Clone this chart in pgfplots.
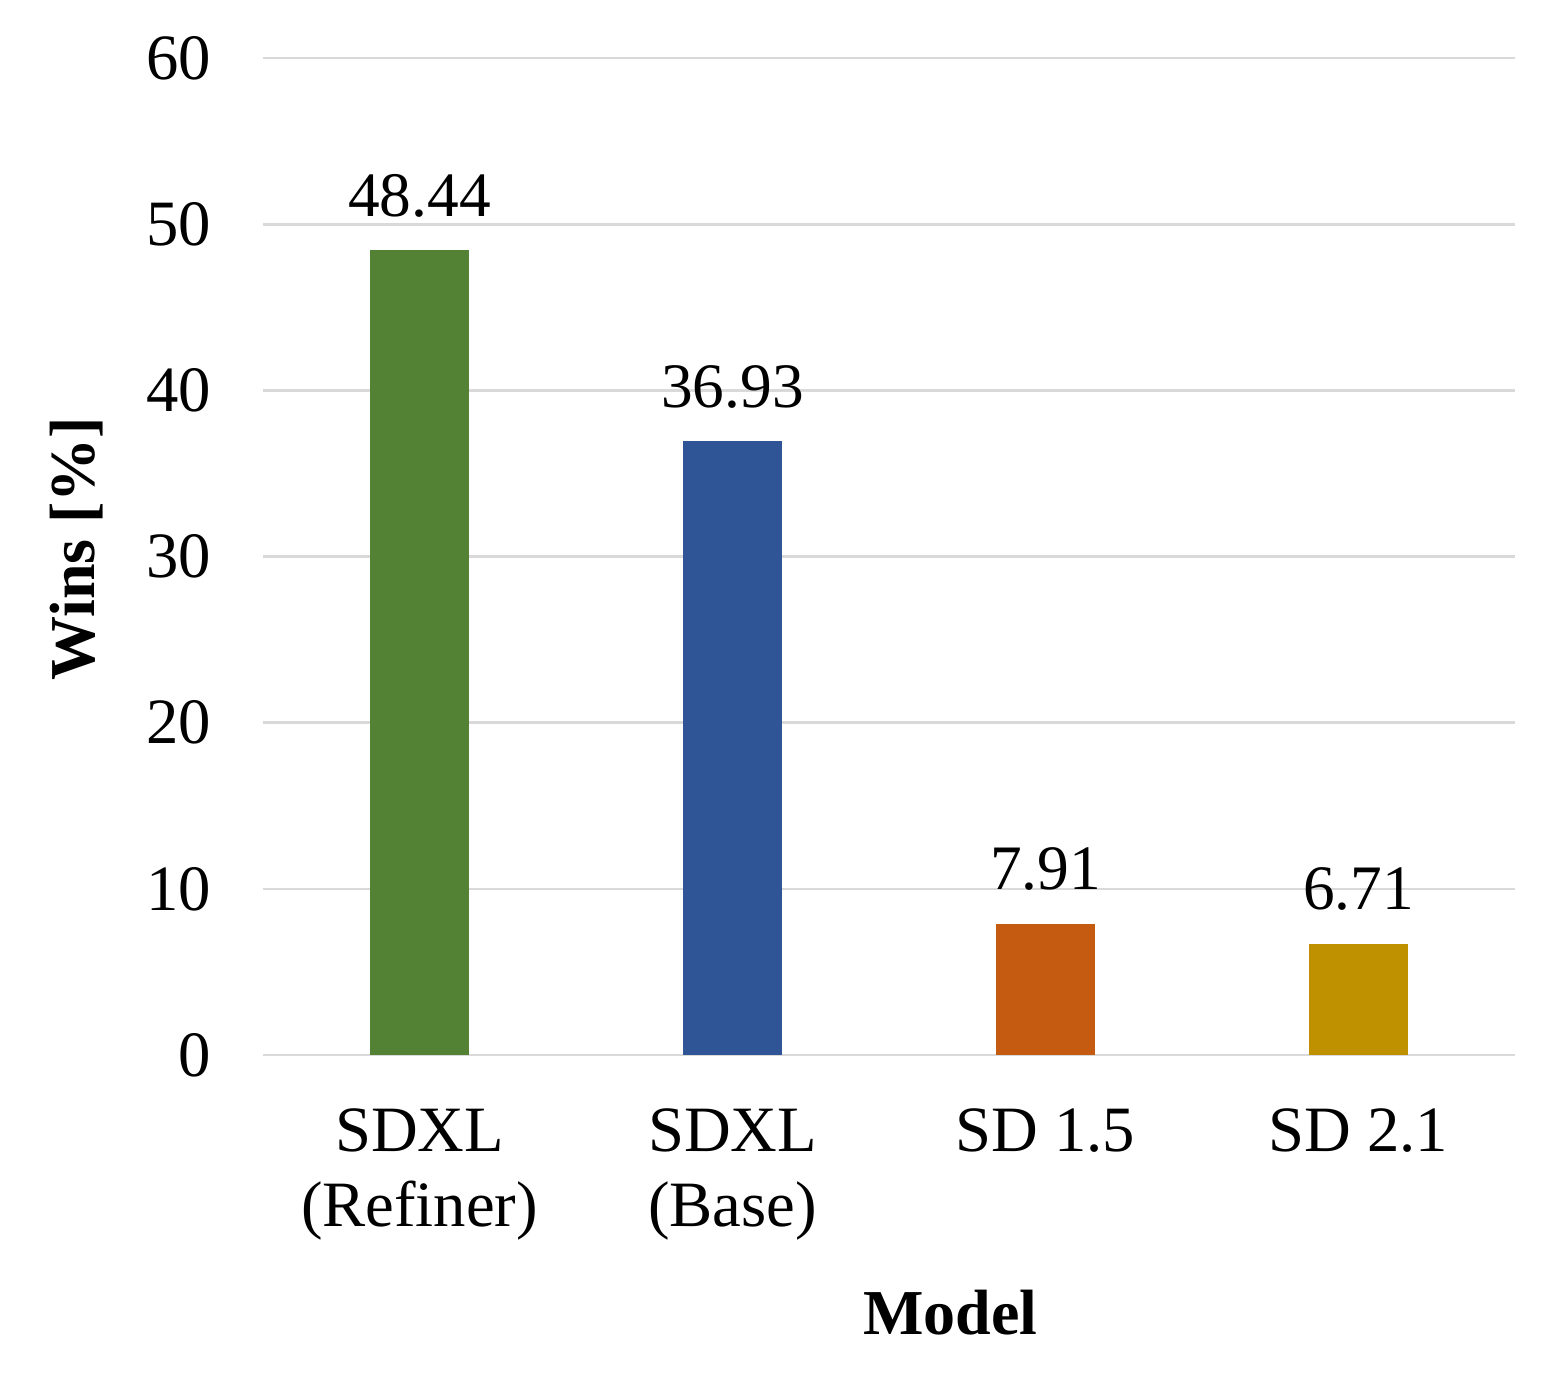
\documentclass[border=0pt]{standalone}
\usepackage{pgfplots}
\pgfplotsset{compat=1.18}
\usepackage{fontspec}
\setmainfont{Liberation Serif}
\definecolor{cgreen}{HTML}{548235}
\definecolor{cblue}{HTML}{2F5597}
\definecolor{corange}{HTML}{C55A11}
\definecolor{cgold}{HTML}{BF9000}
\begin{document}
\begin{tikzpicture}
\useasboundingbox (-78.9pt,-99pt) rectangle (390.9pt,316.5pt);
\begin{axis}[
  at={(0pt,0pt)}, anchor=south west,
  scale only axis, width=375.6pt, height=299.1pt,
  xmin=-0.5, xmax=3.5, ymin=0, ymax=60,
  ytick={0,10,...,60},
  xtick={0,1,2,3},
  xticklabels={{SDXL\\(Refiner)},{SDXL\\(Base)},{SD 1.5},{SD 2.1}},
  axis line style={draw=none},
  major tick length=0pt,
  ymajorgrids,
  grid style={draw=black!15, line width=0.8pt},
  /pgf/number format/assume math mode=true,
  tick label style={font=\fontsize{19.4}{22.5}\selectfont},
  yticklabel style={xshift=-12pt},
  xticklabel style={align=center, anchor=north, yshift=-12.5pt},
  xlabel={Model}, ylabel={Wins [\%]},
  label style={font=\fontsize{19.2}{23}\selectfont\bfseries},
  xlabel style={at={(axis description cs:0.549,-0.258)}, anchor=center},
  ylabel style={at={(axis description cs:-0.149,0.508)}, anchor=center},
  ybar, bar width=29.7pt, bar shift=0pt,
  nodes near coords,
  nodes near coords style={font=\fontsize{19}{22}\selectfont, yshift=6.3pt, /pgf/number format/.cd, fixed, precision=2, zerofill, assume math mode=true},
]
\addplot[fill=cgreen, draw=none] coordinates {(0,48.44)};
\addplot[fill=cblue, draw=none] coordinates {(1,36.93)};
\addplot[fill=corange, draw=none] coordinates {(2,7.91)};
\addplot[fill=cgold, draw=none] coordinates {(3,6.71)};
\end{axis}
\end{tikzpicture}
\end{document}
